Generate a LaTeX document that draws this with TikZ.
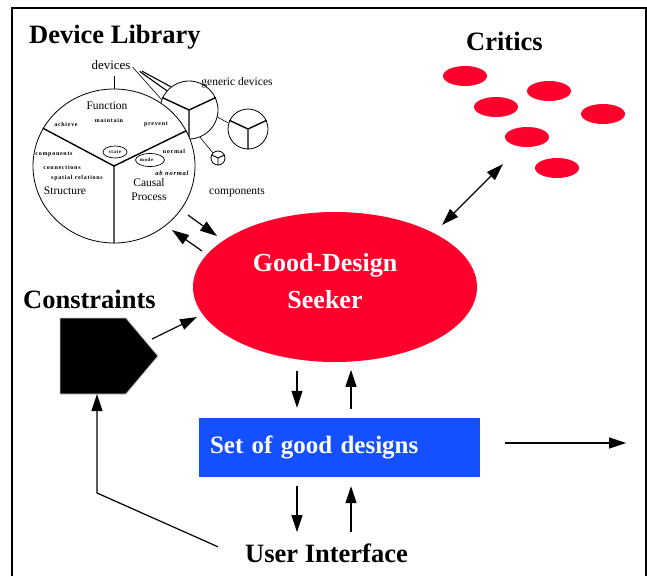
\documentclass[tikz,border=0pt]{standalone}
\usepackage{fontspec}
\setmainfont{Liberation Serif}
\newfontfamily\spacedfont[LetterSpace=12]{Liberation Serif}
\usetikzlibrary{arrows.meta, positioning, calc, shapes.geometric}
\definecolor{seekred}{RGB}{255,0,45}
\definecolor{setblue}{RGB}{20,80,255}
\newcommand{\tinyword}[2][6]{{\spacedfont\bfseries\fontsize{#1}{#1}\selectfont #2}}

\begin{document}
\begin{tikzpicture}[x=1pt, y=-1pt, every node/.style={inner sep=0pt},
  arr/.style={-{Triangle[length=17pt,width=11pt]}, line width=1.2pt},
  biarr/.style={{Triangle[length=17pt,width=11pt]}-{Triangle[length=17pt,width=11pt]}, line width=1.2pt},
  title/.style={font=\fontsize{26.5}{30}\selectfont\bfseries, anchor=base west},
  part/.style={font=\fontsize{11.5}{14}\selectfont, align=center},
  disc/.style={circle, draw, line width=0.8pt, fill=white},
  yline/.style={line width=1.4pt},
  critic/.style={ellipse, fill=seekred, minimum width=44pt, minimum height=20pt}]
\useasboundingbox (0,0) rectangle (647,576);
% frame
\draw[line width=2pt] (12,576) -- (12,8) -- (645.5,8) -- (645.5,576);

% headings
\node[title] (devlib) at (29,43) {Device Library};
\node[title] (critics) at (466,50) {Critics};
\node[title] (constraints) at (23,308) {Constraints};
\node[title] (ui) at (245,562) {User Interface};

% generic devices and their components
\node[disc, minimum size=58pt] (gen) at (189,110) {};
\draw[yline] (gen.center) -- (gen.155) (gen.center) -- (gen.25) (gen.center) -- (gen.south);
\node[disc, minimum size=40pt] (mid) at (248,129) {};
\draw[yline] (mid.center) -- (mid.155) (mid.center) -- (mid.25) (mid.center) -- (mid.south);
\node[disc, minimum size=14pt] (small) at (218,158) {};
\draw[line width=0.9pt] (small.center) -- (small.155) (small.center) -- (small.25) (small.center) -- (small.south);
\draw[line width=0.6pt] (gen.-14) -- (mid.163);
\draw[line width=0.6pt] (gen.-68) -- (small.135);

% the library disc with its three sectors
\node[disc, ellipse, minimum width=162pt, minimum height=154pt] (lib) at (114,166) {};
\draw[yline] (lib.center) -- (lib.152) (lib.center) -- (lib.26) (lib.center) -- (lib.south);

\node[font=\fontsize{13}{15}\selectfont] (devices) at (111,65) {devices};
\draw[line width=0.8pt, shorten >=6pt] (lib.north) -- (lib.north |- devices.south);
\draw[line width=1.1pt, shorten <=13pt] (devices.east) -- (gen.128);
\draw[line width=1.1pt, shorten <=11pt] (devices.east) -- (gen.139);
\draw[line width=0.6pt, shorten <=3pt] (devices.east) -- (gen.159);
\node[part] (generic) at (237,83) {generic devices};
\node[part] (comps) at (237,192) {components};

\node[part] (function) at (107,106) {Function};
\node (maintain) at (109,120) {\tinyword{maintain}};
\node (achieve) at (66,124) {\tinyword{achieve}};
\node (prevent) at (156,124) {\tinyword{prevent}};
\node (components) at (54,154) {\tinyword{components}};
\node (connections) at (62,167) {\tinyword{connections}};
\node (spatial) at (77,178) {\tinyword{spatial relations}};
\node[part] (structure) at (65,191) {Structure};
\node[ellipse, draw, line width=0.7pt, minimum width=24pt, minimum height=12pt] (state) at (115,152) {\tinyword[5]{state}};
\node[ellipse, draw, line width=0.7pt, minimum width=25pt, minimum height=13pt] (mode) at (150,160) {\tinyword[5]{mode}\hspace*{7pt}};
\node (normal) at (174,151) {\tinyword{normal}};
\node (abnormal) at (172,173) {{\spacedfont\bfseries\itshape\fontsize{6.5}{7}\selectfont ab normal}};
\node[part] (causal) at (149,190) {Causal\\Process};

% critics
\node[critic] (crit1) at (465,76) {};
\node[critic] (crit2) at (549,91) {};
\node[critic] (crit3) at (496,107) {};
\node[critic] (crit4) at (603,114) {};
\node[critic] (crit5) at (527,137) {};
\node[critic] (crit6) at (557,168) {};

% the seeker
\node[ellipse, fill=seekred, minimum width=284pt, minimum height=150pt,
  label={[text=white, font=\fontsize{26}{37}\selectfont\bfseries, align=center,
    xshift=-10pt, yshift=6pt]center:Good-Design\\Seeker}] (seeker) at (335,287) {};

% constraints
\path[fill=black, draw=gray!40, line width=0.8pt] (60,318) -- (126,318) -- (158,356) -- (126,394) -- (60,394) -- cycle;

% set of good designs
\node[fill=setblue, minimum width=281pt, minimum height=59pt, text width=259pt, align=left,
  text=white, font=\fontsize{25}{30}\selectfont\bfseries] (set) at (339.5,447.5) {Set of good designs};

% arrows
\coordinate (libA) at (188,215);
\coordinate (seekA) at (217,236);
\coordinate (seekB) at (202,251);
\coordinate (libB) at (172,230);
\coordinate (seekC) at (442,225);
\coordinate (critIn) at (503,164);
\coordinate (consOut) at (152,339);
\coordinate (seekD) at (197,317);
\coordinate (uiBend) at (97,493);
\coordinate (consIn) at (97,394);
\draw[arr] (libA) -- (seekA);
\draw[arr] (seekB) -- (libB);
\draw[biarr] (seekC) -- (critIn);
\draw[arr] (consOut) -- (seekD);
\draw[arr] ($(set.north)+(-42.5,-47)$) -- ($(set.north)+(-42.5,-10)$);
\draw[arr] ($(set.north)+(11.5,-9)$) -- ($(set.north)+(11.5,-48)$);
\draw[arr] ($(set.south)+(-42.5,9)$) -- ($(set.south)+(-42.5,55)$);
\draw[arr] ($(set.south)+(11.5,55)$) -- ($(set.south)+(11.5,9)$);
\draw[arr] ($(set.east)+(25,-4.5)$) -- ++(121,0);
\draw[arr] ($(ui.west)+(-27,-6)$) -- (uiBend) -- (consIn);
\end{tikzpicture}
\end{document}
